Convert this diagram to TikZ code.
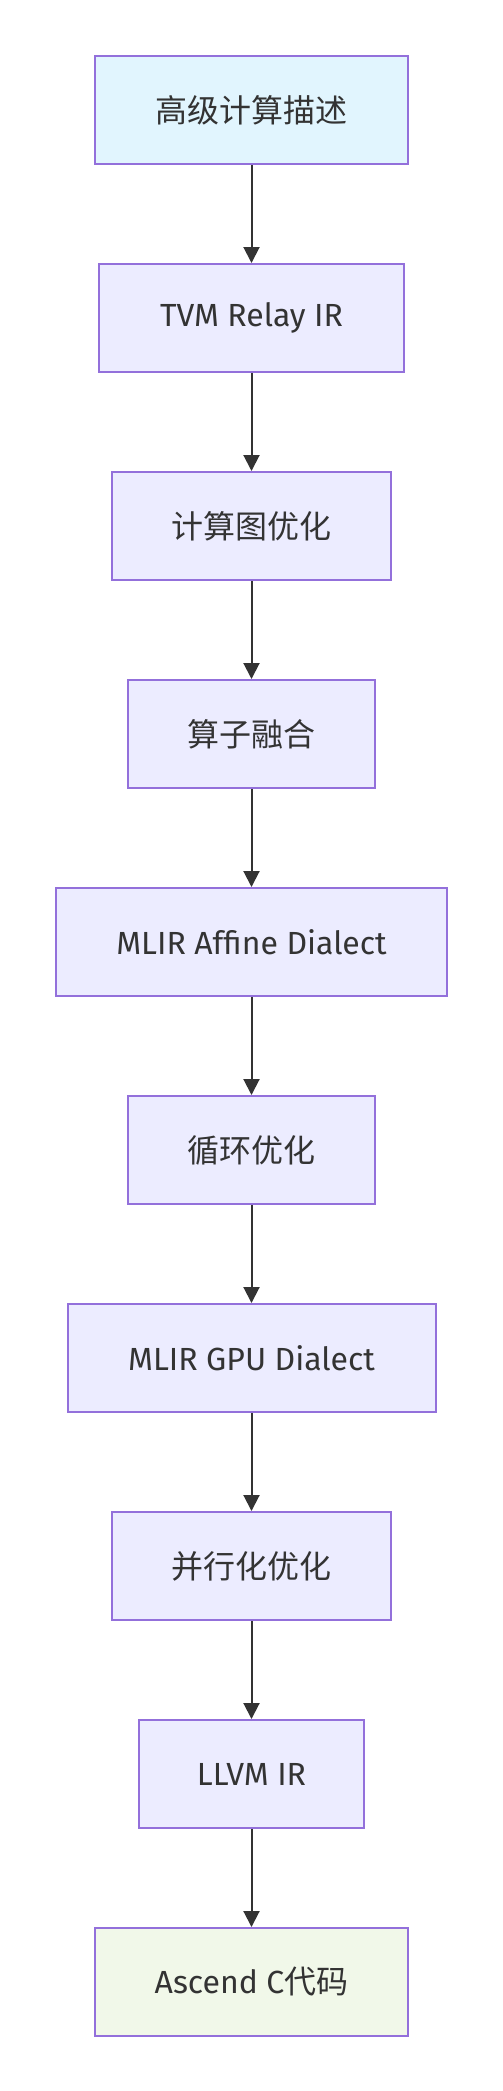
\documentclass[tikz,border=0pt]{standalone}
\usepackage{fontspec}
\setmainfont{Fira Sans}
\newfontfamily\cjk{Noto Sans CJK SC}
\usetikzlibrary{arrows.meta}
\definecolor{nodefill}{HTML}{ECECFF}
\definecolor{nodestroke}{HTML}{9370DB}
\definecolor{topfill}{HTML}{E1F5FE}
\definecolor{endfill}{HTML}{F1F8E9}
\definecolor{linecol}{HTML}{333333}
\definecolor{textcol}{HTML}{333333}
\begin{document}
\begin{tikzpicture}[x=1pt,y=1pt,
  box/.style={draw=nodestroke, line width=2pt, fill=nodefill, minimum height=108pt, inner sep=0pt, text=textcol, font=\fontsize{32}{38}\selectfont},
  arr/.style={draw=linecol, line width=2pt, -{Triangle[length=16pt,width=16pt]}}]
\useasboundingbox (0,0) rectangle (503,-2091);
\node[box, fill=topfill, minimum width=313pt] (n1) at (251.5,-110) {\cjk 高级计算描述};
\node[box, minimum width=305pt] (n2) at (251.5,-318) {TVM Relay IR};
\node[box, minimum width=279pt] (n3) at (251.5,-526) {\cjk 计算图优化};
\node[box, minimum width=247pt] (n4) at (251.5,-734) {\cjk 算子融合};
\node[box, minimum width=391pt] (n5) at (251.5,-942) {MLIR Affine Dialect};
\node[box, minimum width=247pt] (n6) at (251.5,-1150) {\cjk 循环优化};
\node[box, minimum width=368pt] (n7) at (251.5,-1358) {MLIR GPU Dialect};
\node[box, minimum width=279pt] (n8) at (251.5,-1566) {\cjk 并行化优化};
\node[box, minimum width=225pt] (n9) at (251.5,-1774) {LLVM IR};
\node[box, fill=endfill, minimum width=313pt] (n10) at (251.5,-1982) {Ascend C{\cjk 代码}};
\draw[arr] (n1) -- (n2);
\draw[arr] (n2) -- (n3);
\draw[arr] (n3) -- (n4);
\draw[arr] (n4) -- (n5);
\draw[arr] (n5) -- (n6);
\draw[arr] (n6) -- (n7);
\draw[arr] (n7) -- (n8);
\draw[arr] (n8) -- (n9);
\draw[arr] (n9) -- (n10);
\end{tikzpicture}
\end{document}
